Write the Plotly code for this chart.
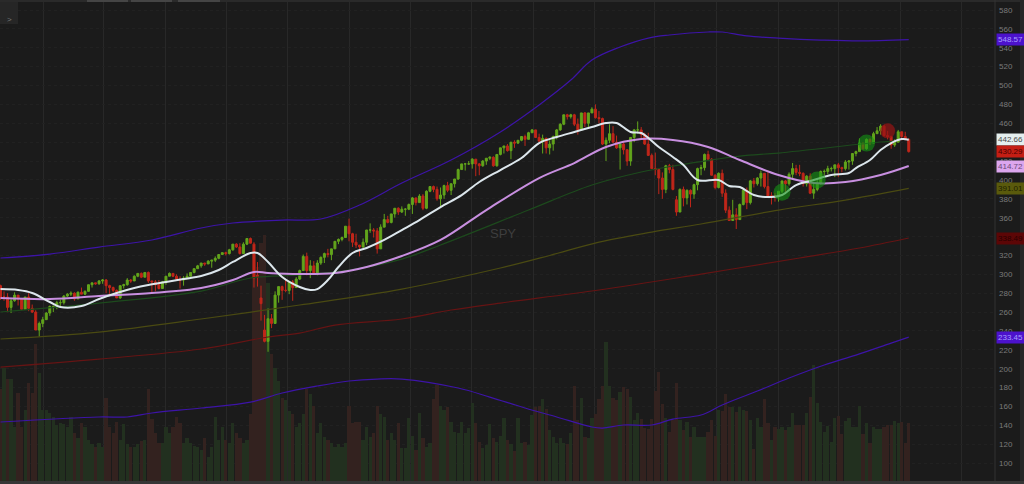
import pandas as pd
import plotly.graph_objects as go

# weekly SPY bars, first week starts 2018-10-08
start = "2018-10-08"

open_ = [
    288, 276, 276, 265, 272, 278, 274, 263, 276, 264,
    260, 241, 248, 252, 259, 266, 266, 270, 270, 277,
    279, 280, 274, 281, 279, 282, 289, 291, 290, 293,
    294, 288, 286, 283, 275, 288, 289, 294, 293, 298,
    301, 297, 302, 293, 292, 289, 285, 292, 298, 301,
    298, 295, 294, 296, 298, 302, 306, 309, 312, 311,
    314, 315, 317, 321, 323, 322, 326, 332, 329, 322,
    332, 338, 332, 299, 275, 241, 229, 253, 248, 278,
    287, 283, 283, 292, 286, 295, 304, 319, 304, 309,
    300, 312, 318, 322, 321, 327, 335, 337, 339, 351,
    343, 334, 331, 329, 334, 347, 347, 346, 327, 350,
    358, 355, 364, 370, 366, 369, 369, 374, 381, 376,
    383, 370, 388, 393, 390, 380, 384, 394, 389, 396,
    401, 411, 417, 417, 417, 422, 417, 415, 420, 423,
    424, 415, 427, 434, 436, 431, 440, 439, 442, 446,
    443, 450, 453, 445, 441, 444, 434, 438, 446, 453,
    459, 469, 467, 469, 459, 453, 471, 460, 471, 475,
    466, 465, 438, 442, 449, 440, 434, 438, 432, 420,
    445, 453, 453, 448, 438, 426, 412, 411, 402, 390,
    415, 411, 379, 366, 390, 381, 389, 385, 395, 412,
    413, 427, 422, 405, 392, 407, 386, 368, 357, 363,
    358, 374, 389, 376, 399, 396, 402, 407, 393, 383,
    383, 382, 388, 399, 396, 406, 412, 408, 407, 396,
    404, 386, 390, 396, 409, 409, 412, 412, 416, 413,
    412, 419, 420, 428, 430, 439, 433, 443, 439, 449,
    452, 457, 447, 446, 437, 440, 451, 446, 443,
]
high_ = [
    289, 282, 280, 275, 281, 278, 274, 276, 280, 268,
    262, 250, 255, 260, 267, 267, 272, 273, 278, 280,
    282, 281, 282, 286, 283, 289, 291, 291, 294, 295,
    295, 289, 287, 284, 288, 290, 296, 295, 299, 301,
    302, 302, 303, 293, 294, 294, 293, 298, 302, 301,
    300, 298, 298, 301, 302, 306, 310, 312, 312, 315,
    315, 319, 321, 323, 324, 327, 332, 333, 333, 334,
    338, 339, 334, 313, 288, 257, 264, 258, 282, 287,
    288, 294, 293, 294, 297, 305, 321, 323, 315, 314,
    315, 319, 323, 327, 327, 335, 338, 340, 351, 359,
    344, 343, 331, 338, 347, 354, 349, 349, 353, 364,
    362, 364, 370, 371, 372, 370, 375, 382, 381, 385,
    385, 389, 393, 394, 393, 392, 395, 398, 396, 401,
    412, 417, 418, 420, 423, 422, 418, 421, 423, 425,
    425, 427, 434, 436, 438, 440, 442, 442, 446, 448,
    451, 454, 453, 449, 448, 445, 442, 447, 454, 460,
    469, 470, 470, 470, 465, 471, 472, 471, 477, 480,
    473, 466, 445, 459, 457, 447, 440, 441, 432, 445,
    454, 462, 456, 450, 450, 428, 429, 412, 408, 416,
    417, 416, 383, 391, 393, 390, 390, 396, 413, 416,
    428, 431, 423, 406, 408, 411, 390, 372, 379, 370,
    375, 390, 392, 400, 402, 403, 410, 407, 410, 387,
    386, 388, 399, 400, 408, 418, 416, 416, 408, 405,
    407, 398, 400, 410, 411, 415, 414, 416, 418, 414,
    421, 421, 428, 431, 444, 439, 444, 444, 451, 456,
    459, 458, 452, 447, 443, 453, 451, 451, 444,
]
low_ = [
    273, 272, 260, 259, 271, 267, 262, 263, 261, 259,
    241, 234, 244, 252, 256, 260, 263, 266, 268, 276,
    277, 272, 274, 279, 278, 283, 286, 289, 289, 290,
    280, 279, 281, 275, 274, 285, 288, 291, 294, 297,
    296, 297, 291, 281, 282, 284, 285, 289, 298, 297,
    294, 285, 288, 295, 298, 301, 306, 307, 309, 311,
    307, 313, 316, 321, 320, 321, 325, 328, 321, 323,
    331, 333, 286, 287, 251, 228, 218, 243, 259, 270,
    273, 281, 279, 272, 287, 294, 304, 299, 296, 300,
    299, 310, 312, 318, 315, 327, 332, 335, 339, 335,
    329, 328, 319, 328, 331, 344, 339, 322, 327, 350,
    354, 354, 360, 363, 365, 362, 368, 364, 373, 376,
    368, 369, 387, 387, 378, 372, 380, 387, 384, 392,
    400, 411, 410, 416, 412, 404, 405, 414, 416, 421,
    414, 414, 426, 428, 430, 422, 434, 438, 441, 436,
    443, 450, 445, 441, 428, 428, 427, 431, 443, 452,
    458, 464, 465, 457, 448, 453, 456, 455, 471, 465,
    460, 437, 420, 439, 440, 433, 411, 427, 415, 415,
    440, 449, 444, 437, 426, 412, 405, 385, 380, 386,
    407, 389, 362, 370, 372, 374, 371, 380, 389, 405,
    410, 421, 405, 390, 391, 382, 365, 357, 360, 348,
    358, 373, 369, 374, 392, 394, 393, 391, 382, 374,
    377, 377, 386, 387, 394, 400, 405, 404, 393, 393,
    385, 380, 388, 395, 405, 406, 409, 403, 403, 408,
    410, 411, 416, 425, 430, 432, 432, 437, 440, 449,
    448, 446, 443, 433, 435, 440, 442, 442, 429,
]
close_ = [
    276, 276, 265, 272, 278, 274, 263, 276, 264, 260,
    241, 248, 252, 259, 266, 266, 270, 270, 277, 279,
    280, 274, 281, 279, 282, 289, 291, 290, 293, 294,
    288, 286, 283, 275, 288, 289, 294, 293, 298, 301,
    297, 302, 293, 292, 289, 285, 292, 298, 301, 298,
    295, 294, 296, 298, 302, 306, 309, 312, 311, 314,
    315, 317, 321, 323, 322, 326, 332, 329, 322, 332,
    338, 333, 296, 297, 269, 229, 253, 248, 278, 287,
    283, 283, 292, 286, 295, 304, 319, 304, 309, 300,
    312, 318, 322, 321, 327, 335, 337, 339, 351, 343,
    334, 331, 329, 334, 347, 347, 346, 327, 350, 358,
    355, 364, 370, 366, 369, 369, 374, 381, 376, 383,
    370, 388, 393, 390, 380, 384, 394, 389, 396, 401,
    411, 417, 417, 417, 422, 417, 415, 420, 423, 424,
    415, 427, 434, 436, 431, 440, 439, 442, 446, 443,
    450, 453, 445, 441, 444, 434, 438, 446, 453, 459,
    469, 467, 469, 459, 453, 471, 460, 471, 475, 466,
    465, 438, 442, 449, 440, 434, 438, 432, 420, 445,
    453, 453, 448, 438, 426, 412, 411, 402, 390, 415,
    411, 390, 366, 390, 381, 389, 385, 395, 412, 413,
    427, 422, 405, 392, 407, 386, 368, 357, 363, 358,
    374, 389, 376, 399, 396, 402, 407, 393, 383, 383,
    382, 388, 399, 396, 406, 412, 408, 407, 396, 404,
    386, 390, 396, 409, 409, 412, 412, 416, 413, 412,
    419, 420, 428, 430, 439, 433, 443, 439, 449, 452,
    457, 447, 446, 437, 440, 451, 446, 443, 430,
]
# weekly volume, millions of shares
volume = [
    580, 710, 640, 640, 340, 555, 340, 450, 620, 555,
    860, 680, 450, 447, 430, 405, 350, 365, 360, 340,
    405, 300, 270, 365, 340, 258, 230, 215, 240, 215,
    520, 340, 300, 370, 258, 360, 230, 215, 215, 230,
    250, 258, 580, 390, 300, 240, 240, 340, 300, 340,
    405, 365, 240, 270, 240, 220, 215, 195, 270, 150,
    215, 405, 258, 340, 258, 240, 365, 300, 270, 240,
    260, 420, 1450, 1350, 1500, 1550, 1250, 800, 710, 630,
    520, 510, 440, 420, 340, 365, 420, 580, 550, 470,
    300, 365, 280, 260, 240, 215, 230, 215, 240, 470,
    365, 370, 370, 260, 340, 280, 300, 470, 420, 405,
    258, 300, 260, 365, 210, 210, 400, 285, 195, 430,
    270, 215, 240, 515, 605, 470, 450, 465, 370, 310,
    300, 370, 300, 335, 490, 365, 245, 210, 225, 360,
    270, 245, 285, 400, 260, 230, 190, 400, 240, 245,
    225, 415, 465, 470, 515, 455, 320, 275, 240, 270,
    240, 230, 300, 600, 385, 520, 275, 270, 400, 420,
    515, 600, 875, 600, 520, 510, 560, 590, 580, 530,
    385, 430, 390, 335, 330, 390, 565, 685, 485, 400,
    310, 385, 620, 385, 320, 370, 275, 340, 275, 275,
    275, 310, 385, 285, 450, 440, 550, 465, 465, 435,
    465, 450, 440, 385, 200, 400, 340, 515, 365, 260,
    340, 330, 340, 320, 340, 430, 355, 355, 355, 430,
    530, 730, 490, 370, 310, 345, 245, 400, 410, 295,
    380, 400, 340, 340, 470, 295, 365, 240, 340, 330,
    330, 340, 355, 355, 380, 365, 370, 240, 365,
]

# indicator lines sampled at week index
upper_idx = [0, 14, 28, 43, 57, 66, 80, 91, 102, 114, 128, 142, 153, 162, 168, 176, 184, 190, 201, 205, 212, 221, 233, 244, 258]
upper_val = [317.3, 321.5, 328.9, 336.4, 349.1, 354.4, 357.5, 358.6, 373.4, 396.7, 421.1, 450.8, 479.4, 505.8, 527.0,
             540.8, 550.3, 553.5, 556.7, 556.7, 552.5, 550.3, 548.2, 547.2, 548.57]
lower_idx = [0, 28, 36, 43, 57, 71, 80, 90, 99, 107, 114, 130, 139, 149, 158, 168, 171, 177, 185, 191, 199, 205, 215,
             224, 234, 243, 253, 258]
lower_val = [143.6, 148.9, 148.9, 153.1, 158.4, 164.7, 174.3, 181.7, 187.0, 189.1, 189.1, 179.6, 170.0, 158.4, 148.9,
             138.3, 137.2, 140.4, 140.4, 146.7, 151.0, 161.6, 176.4, 190.2, 204.0, 214.5, 227.2, 233.45]
mid_idx = [0, 28, 57, 85, 114, 142, 156, 170, 185, 199, 221, 240, 258]
mid_val = [231.5, 238.9, 252.7, 267.5, 284.4, 306.7, 320.0, 334.2, 344.8, 353.3, 368.1, 378.7, 391.01]
ma200w_idx = [0, 28, 57, 76, 85, 95, 114, 128, 142, 170, 199, 227, 244, 258]
ma200w_val = [201.8, 210.3, 220.9, 233.6, 237.8, 246.3, 252.7, 262.2, 269.6, 283.4, 300.3, 317.3, 327.9, 338.49]
green_idx = [0, 28, 57, 71, 85, 99, 114, 125, 150, 168, 182, 191, 210, 221, 250, 254]
green_val = [260.1, 269.6, 282.3, 296.1, 299.3, 304.6, 316.2, 331.1, 368.1, 394.6, 408.4, 414.7, 425.3, 428.5, 440.2, 441.2]
ma40w_idx = [0, 14, 28, 43, 57, 66, 72, 76, 85, 95, 104, 114, 125, 138, 153, 163, 172, 182, 191, 201, 210, 221, 231,
             240, 250, 258]
ma40w_val = [274.9, 273.8, 277.0, 280.2, 285.5, 294.0, 302.5, 301.4, 300.3, 301.4, 307.8, 319.4, 336.4, 368.1, 402.0,
             417.9, 434.9, 443.3, 442.3, 434.9, 421.1, 405.2, 396.7, 397.8, 405.2, 414.72]
ma20w_idx = [0, 5, 9, 14, 17, 23, 28, 33, 38, 42, 47, 52, 57, 62, 66, 71, 73, 76, 80, 85, 88, 90, 93, 96, 100, 104,
             109, 114, 119, 125, 131, 136, 142, 148, 153, 158, 163, 168, 172, 175, 179, 182, 187, 191, 194, 198, 204,
             207, 210, 214, 219, 222, 226, 231, 236, 241, 243, 247, 250, 253, 256, 258]
ma20w_val = [284.4, 283.4, 280.2, 270.7, 265.4, 266.4, 273.9, 280.2, 285.5, 288.7, 291.9, 295.0, 298.2, 304.6, 313.1,
             322.6, 322.6, 313.1, 297.2, 286.6, 283.4, 284.4, 294.0, 307.8, 322.6, 327.9, 336.4, 346.9, 357.5, 371.3,
             384.0, 397.8, 410.5, 423.2, 439.1, 445.5, 450.8, 456.1, 460.3, 460.3, 450.8, 449.7, 434.9, 424.3, 415.8,
             399.9, 399.9, 393.6, 392.5, 384.0, 381.9, 384.0, 394.6, 399.9, 405.2, 407.3, 412.6, 421.1, 431.7, 439.1,
             443.3, 442.66]

# signal highlights
buy_idx = [222, 232, 246]
buy_val = [387, 400, 439]
sell_idx = [252]
sell_val = [452]

last_price = 430.29

weeks = pd.date_range(start, periods=len(close_), freq="7D")


def wk(idx):
    return [weeks[i] for i in idx]


fig = go.Figure()

vol_colors = ["#22301f" if c >= o else "#33221f" for o, c in zip(open_, close_)]
fig.add_trace(go.Bar(x=weeks, y=volume, marker_color=vol_colors, marker_line_width=0,
                     width=7 * 86400000 * 0.92, yaxis="y"))

for xs, ys, col in [(upper_idx, upper_val, "#3d14a8"), (lower_idx, lower_val, "#3d14a8"),
                    (mid_idx, mid_val, "#4a4a12"), (ma200w_idx, ma200w_val, "#651414"),
                    (green_idx, green_val, "#1d4a1d")]:
    fig.add_trace(go.Scatter(x=wk(xs), y=ys, mode="lines", line=dict(color=col, width=1.2, shape="spline"),
                             yaxis="y2"))

fig.add_trace(go.Candlestick(
    x=weeks, open=open_, high=high_, low=low_, close=close_, yaxis="y2", whiskerwidth=0,
    increasing=dict(line=dict(color="#62a51c", width=1), fillcolor="#62a51c"),
    decreasing=dict(line=dict(color="#c0261a", width=1), fillcolor="#c0261a"),
))

fig.add_trace(go.Scatter(x=wk(ma40w_idx), y=ma40w_val, mode="lines",
                         line=dict(color="#c88fe0", width=2, shape="spline"), yaxis="y2"))
fig.add_trace(go.Scatter(x=wk(ma20w_idx), y=ma20w_val, mode="lines",
                         line=dict(color="#dce6ec", width=2, shape="spline"), yaxis="y2"))

fig.add_trace(go.Scatter(x=wk(buy_idx), y=buy_val, mode="markers",
                         marker=dict(size=17, color="rgba(20,150,20,0.6)", line_width=0), yaxis="y2"))
fig.add_trace(go.Scatter(x=wk(sell_idx), y=sell_val, mode="markers",
                         marker=dict(size=15, color="rgba(150,20,20,0.7)", line_width=0), yaxis="y2"))

x0 = pd.Timestamp(start) - pd.Timedelta(days=1)
x1 = pd.Timestamp(start) + pd.Timedelta(days=7 * 282.5)
grid_dates = [pd.Timestamp(f"{y}-{m:02d}-01") for y in range(2019, 2025) for m in (1, 5, 9)]

# value tags on the price scale
tags = [
    (upper_val[-1], "#4c12cc", "#a79cff"),
    (ma20w_val[-1], "#e4eeee", "#4a4a4a"),
    (last_price, "#c41e14", "#4a0000"),
    (ma40w_val[-1], "#dca6ee", "#6a4a78"),
    (mid_val[-1], "#5a5a0c", "#1e1e00"),
    (ma200w_val[-1], "#5c0606", "#2a0000"),
    (lower_val[-1], "#4c12cc", "#a79cff"),
]
annotations = [
    dict(x=1, xref="paper", xanchor="left", xshift=1, y=v, yref="y2", text=f"{v:.2f}", showarrow=False,
         bgcolor=bg, font=dict(color=fg, size=8, family="Liberation Sans"), borderpad=1)
    for v, bg, fg in tags
]
annotations.append(dict(x=503 / 995, y=1 - 233 / 481, xref="paper", yref="paper", text="SPY", showarrow=False,
                        font=dict(color="#3e3e3e", size=13, family="Liberation Sans")))
annotations.append(dict(x=5 / 995, y=1 - 13 / 481, xref="paper", yref="paper", text="&gt;", showarrow=False,
                        font=dict(color="#777777", size=8, family="Liberation Sans")))

shapes = [
    dict(type="rect", xref="paper", yref="paper", x0=0, x1=18 / 995, y0=1 - 24 / 481, y1=1,
         fillcolor="#262626", line_width=0),
    dict(type="rect", xref="paper", yref="paper", x0=0, x1=1.03, y0=1 - 2 / 481, y1=1,
         fillcolor="#2a2a2a", line_width=0),
    dict(type="line", xref="paper", yref="paper", x0=1, x1=1, y0=0, y1=1, line=dict(color="#333333", width=1)),
    dict(type="rect", xref="paper", yref="paper", x0=1020 / 995, x1=1.03, y0=-0.01, y1=1,
         fillcolor="#262626", line_width=0),
    dict(type="rect", xref="paper", yref="paper", x0=0, x1=1.03, y0=-0.01, y1=0,
         fillcolor="#363636", line_width=0),
]
for a, b in [(87, 128), (131, 172), (178, 220)]:
    shapes.append(dict(type="rect", xref="paper", yref="paper", x0=a / 995, x1=b / 995, y0=1 - 2 / 481, y1=1,
                       fillcolor="#454545", line_width=0))

fig.update_layout(
    width=1024, height=484,
    margin=dict(l=0, r=29, t=0, b=3, pad=0),
    paper_bgcolor="#1b1b1b", plot_bgcolor="#1b1b1b",
    showlegend=False, boxgap=0.2, bargap=0,
    font=dict(family="Liberation Sans", color="#7a7a7a", size=8),
    xaxis=dict(type="date", range=[x0, x1], rangeslider=dict(visible=False), tickvals=grid_dates,
               showticklabels=False, ticks="", showgrid=True, gridcolor="#282828", gridwidth=1,
               zeroline=False, showline=False),
    yaxis=dict(range=[0, 3030], visible=False, showgrid=False, fixedrange=True),
    yaxis2=dict(overlaying="y", side="right", range=[81.1, 590.6], tickvals=list(range(100, 600, 20)),
                ticks="", ticklabelstandoff=3, tickfont=dict(color="#7a7a7a", size=8),
                showgrid=True, gridcolor="#212121", griddash="dot", zeroline=False, showline=False),
    annotations=annotations,
    shapes=shapes,
)

fig.write_html("out.html", config={"displayModeBar": False},
               post_script="document.body.style.margin='0';document.body.style.overflow='hidden';")
